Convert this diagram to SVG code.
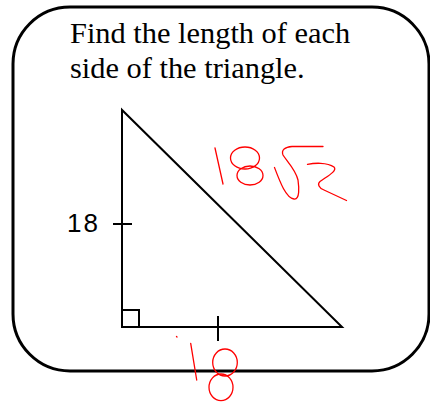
<svg xmlns="http://www.w3.org/2000/svg" width="430" height="402" viewBox="0 0 430 402">
<style>
.blk{fill:none;stroke:#000;stroke-width:2}
.red{fill:none;stroke:#ff0000;stroke-width:1.3;stroke-linecap:round;stroke-linejoin:round}
.title{font-family:"Liberation Serif","Times New Roman",serif;font-size:30.4px;fill:#000}
.lbl{font-family:"Liberation Sans",Arial,sans-serif;font-size:26px;fill:#000;letter-spacing:2px}
</style>
<rect width="430" height="402" fill="#fff"/>
<g id="frame">
<rect x="13" y="7" width="416" height="364" rx="57" ry="57" fill="none" stroke="#000" stroke-width="3"/>
</g>
<g id="title">
<text class="title" x="70" y="43">Find the length of each</text>
<text class="title" x="70" y="78">side of the triangle.</text>
</g>
<g id="triangle">
<path class="blk" d="M122,110 L122,327 L342,327 Z" stroke-linejoin="miter"/>
<path class="blk" d="M122,310 L139,310 L139,327"/>
</g>
<g id="ticks">
<line class="blk" x1="113" y1="224" x2="132" y2="224"/>
<line class="blk" x1="218" y1="316" x2="218" y2="341"/>
</g>
<g id="label-left">
<text class="lbl" x="67" y="232">18</text>
</g>
<g id="hyp-answer">
<path class="red" d="M215,148 L223,184"/>
<ellipse class="red" cx="245" cy="158" rx="14.5" ry="11"/>
<ellipse class="red" cx="250" cy="175.5" rx="13" ry="9.5"/>
<path class="red" d="M274.5,167.5 C280,182 286,198 294,199 C300,200 299,187 298,180 C296,170 286,160 283,155 C281,150 285,147 292,146.5 L323,146.5"/>
<path class="red" d="M307.5,164.3 C314,163 327,162 334,167 C338,171 326,177 320,181.5 C317,184 319,188 324,190 L346.5,200.5"/>
</g>
<g id="base-answer">
<path class="red" d="M176.5,336.5 L177,337"/>
<path class="red" d="M190.7,343.3 L196.7,380"/>
<ellipse class="red" cx="225" cy="362.5" rx="12.3" ry="13.5"/>
<ellipse class="red" cx="221" cy="387.3" rx="12" ry="13.3"/>
</g>
</svg>
